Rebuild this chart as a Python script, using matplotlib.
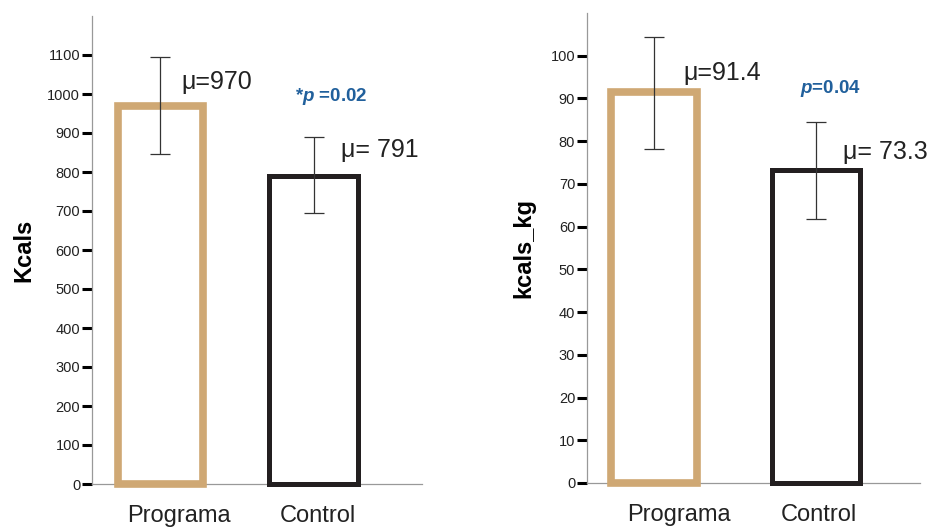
import matplotlib
matplotlib.use("Agg")
import matplotlib.pyplot as plt
from matplotlib.transforms import ScaledTranslation

# data
groups = ["Programa", "Control"]

kcal_mean = [970, 791]
kcal_hi = [1096, 890]
kcal_lo = [845, 695]
kcal_ticks = [0, 100, 200, 300, 400, 500, 600, 700, 800, 900, 1000, 1100]
kcal_p = "0.02"

kg_mean = [91.4, 73.3]
kg_hi = [104.5, 84.5]
kg_lo = [78.2, 61.7]
kg_ticks = [0, 10, 20, 30, 40, 50, 60, 70, 80, 90, 100]
kg_p = "0.04"

# look
TAN = "#CFA874"
DARK = "#231F20"
BLUE = "#21609C"

plt.rcParams["font.family"] = ["Liberation Sans", "DejaVu Sans"]
plt.rcParams["mathtext.fontset"] = "custom"
plt.rcParams["mathtext.it"] = "Liberation Sans:italic:bold"
plt.rcParams["mathtext.rm"] = "Liberation Sans:bold"

fig = plt.figure(figsize=(9.35, 5.31), dpi=100)


def panel(rect, means, hi, lo, ticks, ymax, xlim, widths, ylabel, label_x,
          mu_fmt, mu_pos, p_text, p_pos, label_dx):
    ax = fig.add_axes(rect)
    xs = [0, 1]
    lws = [5.5, 3.6]
    for x, m, w, c, lw in zip(xs, means, widths, [TAN, DARK], lws):
        ax.bar(x, m, width=w, color="white", edgecolor=c, linewidth=lw,
               zorder=3, clip_on=False)
    yerr = [[m - l for m, l in zip(means, lo)], [h - m for m, h in zip(means, hi)]]
    ax.errorbar(xs, means, yerr=yerr, fmt="none", ecolor="#333333",
                elinewidth=0.9, capsize=7.5, capthick=0.9, zorder=4)

    ax.set_ylim(0, ymax)
    ax.set_xlim(*xlim)
    ax.set_yticks(ticks)
    ax.set_yticklabels([str(t) for t in ticks], fontsize=10.5, color="#222222")
    ax.tick_params(axis="y", length=7, width=2.2, color="black", pad=1.5)

    ax.set_xticks(xs)
    ax.set_xticklabels(groups, fontsize=17, color="#222222")
    ax.tick_params(axis="x", length=0, pad=15)
    for lbl, dx in zip(ax.get_xticklabels(), label_dx):
        lbl.set_transform(lbl.get_transform() +
                          ScaledTranslation(dx / 100, 0, fig.dpi_scale_trans))

    for s in ["top", "right"]:
        ax.spines[s].set_visible(False)
    for s in ["left", "bottom"]:
        ax.spines[s].set_color("#999999")
        ax.spines[s].set_linewidth(0.9)

    ax.set_ylabel(ylabel, fontsize=17, fontweight="bold", va="center")
    ax.yaxis.set_label_coords(label_x, 0.5)

    for m, (tx, ty), fmt in zip(means, mu_pos, mu_fmt):
        ax.text(tx, ty, fmt.format(m), fontsize=18, color="#222222",
                ha="left", va="center")
    ax.text(p_pos[0], p_pos[1], p_text, fontsize=13.5, fontweight="bold",
            color=BLUE, ha="left", va="center")
    return ax


panel([92 / 935, 47 / 531, 330 / 935, 468 / 531],
      kcal_mean, kcal_hi, kcal_lo, kcal_ticks, 1200,
      (-0.446, 1.704), [0.556, 0.58], "Kcals", -0.206,
      ["\u03bc={:.0f}", "\u03bc= {:.0f}"], [(0.134, 1031), (1.176, 856)],
      "*" + r"$p$ =" + kcal_p, (0.876, 993), [18, 4])

panel([587 / 935, 48 / 531, 333 / 935, 470 / 531],
      kg_mean, kg_hi, kg_lo, kg_ticks, 110,
      (-0.415, 1.647), [0.534, 0.545], "kcals_kg", -0.189,
      ["\u03bc={:.1f}", "\u03bc= {:.1f}"], [(0.18, 96), (1.168, 77.5)],
      r"$p$=" + kg_p, (0.904, 92.4), [25, 3])

fig.savefig("out.png", dpi=100)
